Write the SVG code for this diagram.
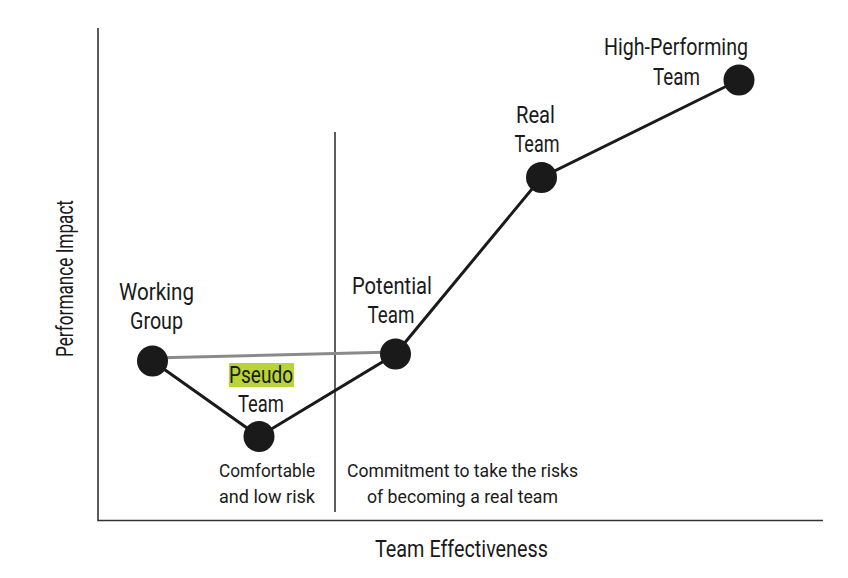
<svg xmlns="http://www.w3.org/2000/svg" width="848" height="578" viewBox="0 0 848 578">
<style>
.t{font-family:Roboto,"Liberation Sans",sans-serif;font-size:24px;fill:#1a1a1a;text-anchor:middle}
.s{font-family:Roboto,"Liberation Sans",sans-serif;font-size:18.5px;fill:#1a1a1a;text-anchor:middle}
.n{fill:#1a1a1a}
.e{stroke:#1a1a1a;stroke-width:3;fill:none}
.ax{stroke:#333;stroke-width:1.6;fill:none}
</style>
<rect width="848" height="578" fill="#fff"/>
<g id="axes">
<path class="ax" d="M98,28 V520.5 H823"/>
<path class="ax" d="M335,132 V512"/>
<text class="t" x="461.5" y="557" textLength="173" lengthAdjust="spacingAndGlyphs">Team Effectiveness</text>
<text class="t" transform="translate(73,278.5) rotate(-90)" x="0" y="0" textLength="157" lengthAdjust="spacingAndGlyphs">Performance Impact</text>
</g>
<g id="connectors">
<line x1="152" y1="358" x2="395" y2="352" stroke="#8a8a8a" stroke-width="3"/>
<polyline class="e" points="152.5,361 259,436.5 395.5,354 541.5,177.5 739,80"/>
</g>
<g id="working-group">
<circle class="n" cx="152.5" cy="361" r="15.5"/>
<text class="t" x="156.5" y="300" textLength="75" lengthAdjust="spacingAndGlyphs">Working</text>
<text class="t" x="156.5" y="329" textLength="53" lengthAdjust="spacingAndGlyphs">Group</text>
</g>
<g id="pseudo-team">
<circle class="n" cx="259" cy="436.5" r="15.5"/>
<rect x="229" y="363" width="65" height="24" fill="#b8d437"/>
<text class="t" x="261" y="383" textLength="64" lengthAdjust="spacingAndGlyphs">Pseudo</text>
<text class="t" x="261" y="412" textLength="46" lengthAdjust="spacingAndGlyphs">Team</text>
<text class="s" x="267" y="477" textLength="96" lengthAdjust="spacingAndGlyphs">Comfortable</text>
<text class="s" x="267" y="503" textLength="96" lengthAdjust="spacingAndGlyphs">and low risk</text>
</g>
<g id="potential-team">
<circle class="n" cx="395.5" cy="354" r="15.5"/>
<text class="t" x="392" y="294" textLength="80" lengthAdjust="spacingAndGlyphs">Potential</text>
<text class="t" x="391" y="323" textLength="47" lengthAdjust="spacingAndGlyphs">Team</text>
<text class="s" x="462.5" y="477" textLength="231" lengthAdjust="spacingAndGlyphs">Commitment to take the risks</text>
<text class="s" x="462.5" y="503" textLength="191" lengthAdjust="spacingAndGlyphs">of becoming a real team</text>
</g>
<g id="real-team">
<circle class="n" cx="541.5" cy="177.5" r="15.5"/>
<text class="t" x="535.5" y="123" textLength="39" lengthAdjust="spacingAndGlyphs">Real</text>
<text class="t" x="537" y="152" textLength="45" lengthAdjust="spacingAndGlyphs">Team</text>
</g>
<g id="high-performing-team">
<circle class="n" cx="739" cy="80" r="15.5"/>
<text class="t" x="676" y="55" textLength="144" lengthAdjust="spacingAndGlyphs">High-Performing</text>
<text class="t" x="676.5" y="85" textLength="47" lengthAdjust="spacingAndGlyphs">Team</text>
</g>
</svg>
